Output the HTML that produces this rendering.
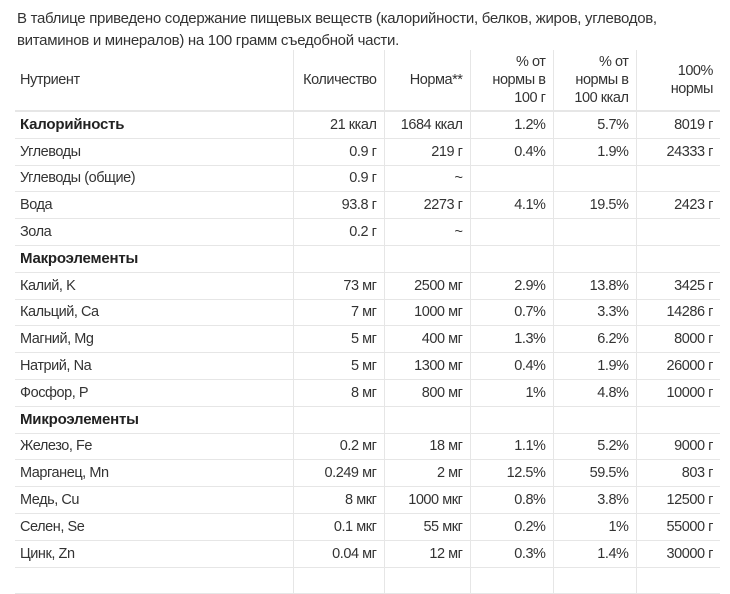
<!DOCTYPE html>
<html><head><meta charset="utf-8"><style>
body{margin:0;width:730px;height:574px;background:#fff;font-family:"Liberation Sans",sans-serif;color:#333;overflow:hidden;position:relative}
.intro{position:absolute;left:17px;top:8px;font-size:15px;line-height:22px;letter-spacing:-0.3px;width:665px}
table{position:absolute;left:15px;top:50px;border-collapse:collapse;table-layout:fixed;font-size:14.5px;letter-spacing:-0.45px}
td,th{border-bottom:1px solid #e6e6e6;border-left:1px solid #e6e6e6;padding:0 7px;text-align:right;height:25.8px;white-space:nowrap;font-weight:normal}
td:first-child,th:first-child{border-left:none;text-align:left;padding-left:5px}
th{height:60px;vertical-align:middle;line-height:18px;border-bottom:2px solid #e6e6e6}
tr.b td:first-child{font-weight:bold;color:#222;font-size:15px;letter-spacing:-0.2px}
</style></head><body>
<div class="intro">В таблице приведено содержание пищевых веществ (калорийности, белков, жиров, углеводов,<br>витаминов и минералов) на 100 грамм съедобной части.</div>
<table>
<colgroup><col style="width:278px"><col style="width:91px"><col style="width:86px"><col style="width:83px"><col style="width:83px"><col style="width:84px"></colgroup>
<tr><th>Нутриент</th><th>Количество</th><th>Норма**</th><th>% от<br>нормы в<br>100 г</th><th>% от<br>нормы в<br>100 ккал</th><th>100%<br>нормы</th></tr>
<tr class="b"><td>Калорийность</td><td>21 ккал</td><td>1684 ккал</td><td>1.2%</td><td>5.7%</td><td>8019 г</td></tr>
<tr><td>Углеводы</td><td>0.9 г</td><td>219 г</td><td>0.4%</td><td>1.9%</td><td>24333 г</td></tr>
<tr><td>Углеводы (общие)</td><td>0.9 г</td><td>~</td><td></td><td></td><td></td></tr>
<tr><td>Вода</td><td>93.8 г</td><td>2273 г</td><td>4.1%</td><td>19.5%</td><td>2423 г</td></tr>
<tr><td>Зола</td><td>0.2 г</td><td>~</td><td></td><td></td><td></td></tr>
<tr class="b"><td>Макроэлементы</td><td></td><td></td><td></td><td></td><td></td></tr>
<tr><td>Калий, K</td><td>73 мг</td><td>2500 мг</td><td>2.9%</td><td>13.8%</td><td>3425 г</td></tr>
<tr><td>Кальций, Ca</td><td>7 мг</td><td>1000 мг</td><td>0.7%</td><td>3.3%</td><td>14286 г</td></tr>
<tr><td>Магний, Mg</td><td>5 мг</td><td>400 мг</td><td>1.3%</td><td>6.2%</td><td>8000 г</td></tr>
<tr><td>Натрий, Na</td><td>5 мг</td><td>1300 мг</td><td>0.4%</td><td>1.9%</td><td>26000 г</td></tr>
<tr><td>Фосфор, P</td><td>8 мг</td><td>800 мг</td><td>1%</td><td>4.8%</td><td>10000 г</td></tr>
<tr class="b"><td>Микроэлементы</td><td></td><td></td><td></td><td></td><td></td></tr>
<tr><td>Железо, Fe</td><td>0.2 мг</td><td>18 мг</td><td>1.1%</td><td>5.2%</td><td>9000 г</td></tr>
<tr><td>Марганец, Mn</td><td>0.249 мг</td><td>2 мг</td><td>12.5%</td><td>59.5%</td><td>803 г</td></tr>
<tr><td>Медь, Cu</td><td>8 мкг</td><td>1000 мкг</td><td>0.8%</td><td>3.8%</td><td>12500 г</td></tr>
<tr><td>Селен, Se</td><td>0.1 мкг</td><td>55 мкг</td><td>0.2%</td><td>1%</td><td>55000 г</td></tr>
<tr><td>Цинк, Zn</td><td>0.04 мг</td><td>12 мг</td><td>0.3%</td><td>1.4%</td><td>30000 г</td></tr>
<tr><td>&nbsp;</td><td></td><td></td><td></td><td></td><td></td></tr>
</table>
</body></html>
